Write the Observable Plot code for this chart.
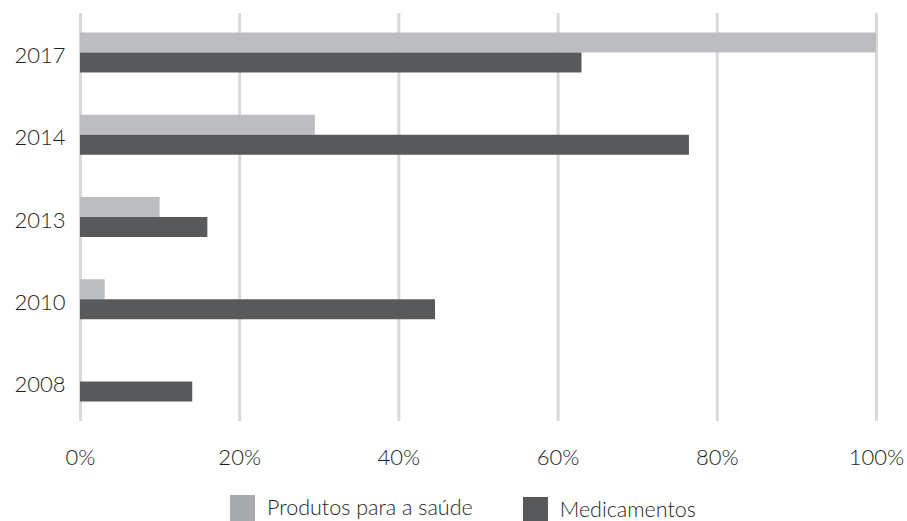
<!DOCTYPE html>
<html>
<head>
<meta charset="utf-8">
<script src="https://cdn.jsdelivr.net/npm/d3@7"></script>
<script src="https://cdn.jsdelivr.net/npm/@observablehq/plot@0.6"></script>
<style>
  html, body { margin: 0; padding: 0; background: #fff; }
  #wrap { width: 907px; height: 521px; overflow: hidden; font-family: Lato, "Open Sans", sans-serif; font-weight: 300; color: #231f20; }
  #legend { display: flex; align-items: flex-start; padding-left: 230px; height: 30px; font-size: 21.5px; margin-top: 20px; }
  .item { display: flex; align-items: flex-start; }
  .sw { width: 25px; height: 28px; margin-right: 12px; }
  .lab { line-height: 24px; }
</style>
</head>
<body>
<div id="wrap"></div>
<script>
const years = ["2017", "2014", "2013", "2010", "2008"];
const series = ["Produtos para a saúde", "Medicamentos"];
const produtos = [100, 29.5, 10, 3.1, 0];
const medicamentos = [63, 76.5, 16, 44.6, 14.1];
const xTicks = [0, 20, 40, 60, 80, 100];
const colors = ["#bcbdc0", "#58595b"];
const legendColors = ["#a9aaad", "#58595b"];

const produtosData = years.map((y, i) => ({year: y, series: series[0], value: produtos[i]}));
const medicamentosData = years.map((y, i) => ({year: y, series: series[1], value: medicamentos[i]}));

const chart = Plot.plot({
  width: 907,
  height: 475,
  marginLeft: 80,
  marginRight: 31,
  marginTop: 13,
  marginBottom: 54,
  style: {fontFamily: "Lato, 'Open Sans', sans-serif", fontWeight: 300, fontSize: "22px", color: "#231f20", background: "#fff"},
  x: {domain: [0, 100], label: null},
  y: {domain: years, paddingInner: 0.514, paddingOuter: 0.237, round: false, label: null},
  color: {domain: series, range: colors},
  marks: [
    Plot.gridX(xTicks, {stroke: "#d9d9d9", strokeWidth: 3, strokeOpacity: 1}),
    Plot.barX(produtosData, {x: "value", y: "year", fill: "series", insetBottom: 20}),
    Plot.barX(medicamentosData, {x: "value", y: "year", fill: "series", insetTop: 20}),
    Plot.axisX(xTicks, {tickSize: 0, tickPadding: 28, tickFormat: d => d + "%", fontSize: 22, label: null}),
    Plot.axisY({tickSize: 0, tickPadding: 15, fontSize: 22, dy: 3, label: null})
  ]
});

const wrap = document.getElementById("wrap");
wrap.appendChild(chart);

const legend = d3.select(wrap).append("div").attr("id", "legend");
series.forEach((s, i) => {
  const it = legend.append("div").attr("class", "item")
    .style("margin-right", i === 0 ? "50px" : "0px")
    .style("margin-top", i === 0 ? "0px" : "2px");
  it.append("div").attr("class", "sw").style("background", legendColors[i]);
  it.append("div").attr("class", "lab").text(s);
});
</script>
</body>
</html>
